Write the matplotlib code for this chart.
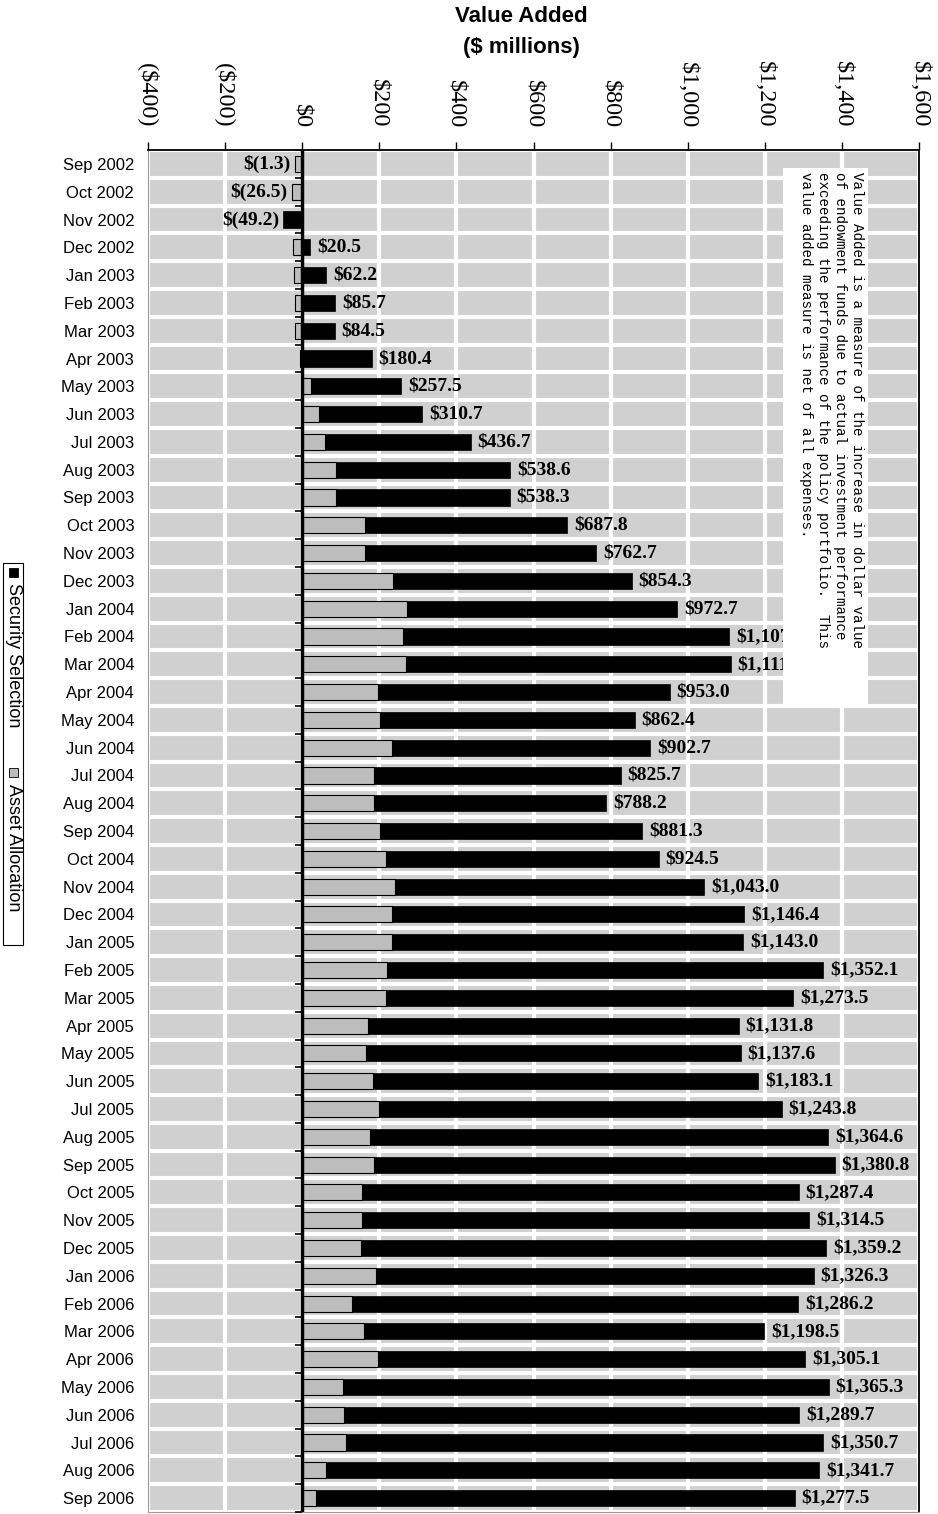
import matplotlib
matplotlib.use("Agg")
import matplotlib.pyplot as plt
from matplotlib.patches import Rectangle
import numpy as np

months = ["Sep 2002", "Oct 2002", "Nov 2002", "Dec 2002", "Jan 2003", "Feb 2003", "Mar 2003",
          "Apr 2003", "May 2003", "Jun 2003", "Jul 2003", "Aug 2003", "Sep 2003", "Oct 2003",
          "Nov 2003", "Dec 2003", "Jan 2004", "Feb 2004", "Mar 2004", "Apr 2004", "May 2004",
          "Jun 2004", "Jul 2004", "Aug 2004", "Sep 2004", "Oct 2004", "Nov 2004", "Dec 2004",
          "Jan 2005", "Feb 2005", "Mar 2005", "Apr 2005", "May 2005", "Jun 2005", "Jul 2005",
          "Aug 2005", "Sep 2005", "Oct 2005", "Nov 2005", "Dec 2005", "Jan 2006", "Feb 2006",
          "Mar 2006", "Apr 2006", "May 2006", "Jun 2006", "Jul 2006", "Aug 2006", "Sep 2006"]

# total value added (the printed labels)
total = [-1.3, -26.5, -49.2, 20.5, 62.2, 85.7, 84.5,
         180.4, 257.5, 310.7, 436.7, 538.6, 538.3, 687.8,
         762.7, 854.3, 972.7, 1107.4, 1111.6, 953.0, 862.4,
         902.7, 825.7, 788.2, 881.3, 924.5, 1043.0, 1146.4,
         1143.0, 1352.1, 1273.5, 1131.8, 1137.6, 1183.1, 1243.8,
         1364.6, 1380.8, 1287.4, 1314.5, 1359.2, 1326.3, 1286.2,
         1198.5, 1305.1, 1365.3, 1289.7, 1350.7, 1341.7, 1277.5]

asset_allocation = [-20, -27, -3, -24, -22, -20, -20,
                    -6, 22, 44, 60, 88, 88, 162,
                    163, 236, 272, 262, 269, 197, 201,
                    232, 187, 187, 201, 218, 241, 233,
                    232, 220, 217, 171, 166, 184, 199,
                    175, 187, 155, 155, 152, 192, 130,
                    161, 197, 106, 109, 113, 61, 35]

security_selection = [0.0, 0.0, -46.2, 20.5, 62.2, 85.7, 84.5,
                      180.4, 235.5, 266.7, 376.7, 450.6, 450.3, 525.8,
                      599.7, 618.3, 700.7, 845.4, 842.6, 756.0, 661.4,
                      670.7, 638.7, 601.2, 680.3, 706.5, 802.0, 913.4,
                      911.0, 1132.1, 1056.5, 960.8, 971.6, 999.1, 1044.8,
                      1189.6, 1193.8, 1132.4, 1159.5, 1207.2, 1134.3, 1156.2,
                      1037.5, 1108.1, 1259.3, 1180.7, 1237.7, 1280.7, 1242.5]

x_ticks = [-400, -200, 0, 200, 400, 600, 800, 1000, 1200, 1400, 1600]
x_labels = ["($400)", "($200)", "$0", "$200", "$400", "$600", "$800",
            "$1,000", "$1,200", "$1,400", "$1,600"]

note = ("Value Added is a measure of the increase in dollar value\n"
        "of endowment funds due to actual investment performance\n"
        "exceeding the performance of the policy portfolio.  This\n"
        "value added measure is net of all expenses.")

SERIF = "Liberation Serif"
SANS = "Liberation Sans"

fig = plt.figure(figsize=(9.38, 15.14), dpi=100)
ax = fig.add_axes([0.1578, 0.0013, 0.8220, 0.8996])
ax.set_facecolor("#d0d0d0")

n = len(months)
y = np.arange(n)
asset = np.array(asset_allocation, dtype=float)
sec = np.array(security_selection, dtype=float)

# excel style stacking: positives go right from 0, negatives go left from 0
sec_left = np.where(np.sign(sec) == np.sign(asset), asset, 0.0)
bh = 0.58
ax.barh(y, asset, height=bh, color="#bdbdbd", edgecolor="black", linewidth=0.8, zorder=3)
ax.barh(y, sec, left=sec_left, height=bh, color="black", edgecolor="black", linewidth=0.5, zorder=3)

right_end = np.maximum(np.maximum(asset, 0), np.maximum(sec_left + sec, 0))
left_end = np.minimum(np.minimum(asset, 0), np.minimum(sec_left + sec, 0))

for i, t in enumerate(total):
    if t >= 0:
        ax.annotate("${:,.1f}".format(t), (right_end[i], i), xytext=(5, 0),
                    textcoords="offset points", ha="left", va="center",
                    fontsize=14, fontweight="bold", fontfamily=SERIF, zorder=4)
    else:
        ax.annotate("$({:,.1f})".format(-t), (left_end[i], i), xytext=(-3, 0),
                    textcoords="offset points", ha="right", va="center",
                    fontsize=14, fontweight="bold", fontfamily=SERIF, zorder=4)

# zero line with little category ticks
ax.axvline(0, color="black", lw=2.5, zorder=5)
ax.plot(np.zeros(n + 1), np.arange(n + 1) - 0.5, ls="none", marker=0, ms=5,
        mew=1.2, color="black", zorder=5)

ax.set_xlim(-400, 1600)
ax.set_ylim(n - 0.5, -0.5)

ax.set_xticks(x_ticks)
ax.set_xticklabels(x_labels, rotation=270, fontsize=17.5, fontfamily=SERIF)
ax.xaxis.tick_top()
ax.tick_params(axis="x", length=6, width=1, direction="out", pad=10)

ax.set_yticks(y)
ax.set_yticklabels(months, fontsize=12, fontfamily=SANS)
ax.set_yticks(np.arange(n + 1) - 0.5, minor=True)
ax.tick_params(axis="y", which="both", length=0, pad=10)

ax.grid(axis="x", which="major", color="white", lw=3)
ax.grid(axis="y", which="minor", color="white", lw=3)
ax.set_axisbelow(True)

for side in ["left", "bottom"]:
    ax.spines[side].set_color("#999999")
ax.spines["top"].set_linewidth(1.3)
ax.spines["right"].set_linewidth(1.3)

# note box, typewriter-like spaced text
ax.add_patch(Rectangle((0.8236, 0.5925), 0.110, 0.3943, transform=ax.transAxes,
                       facecolor="white", edgecolor="none", zorder=6))
ax.text(0.928, 0.9838, note, transform=ax.transAxes, rotation=270, ha="right", va="top",
        multialignment="left", linespacing=1.25, fontsize=10.3,
        fontfamily="Liberation Mono", zorder=7)

# title
fig.text(0.556, 1 - 17 / 1514, "Value Added", ha="center", va="center",
         fontsize=16, fontweight="bold", fontfamily=SANS)
fig.text(0.556, 1 - 47 / 1514, "($ millions)", ha="center", va="center",
         fontsize=16, fontweight="bold", fontfamily=SANS)

# rotated legend on the left
fig.patches.append(Rectangle((3 / 938, 1 - 945 / 1514), 20 / 938, 382 / 1514,
                             transform=fig.transFigure, facecolor="white",
                             edgecolor="black", lw=0.8))
fig.patches.append(Rectangle((8.5 / 938, 1 - 577 / 1514), 9 / 938, 9 / 1514,
                             transform=fig.transFigure, facecolor="black",
                             edgecolor="black", lw=0.6))
fig.text(13 / 938, 1 - 583 / 1514, "Security Selection", rotation=270, ha="center", va="top",
         fontsize=13, fontfamily=SANS)
fig.patches.append(Rectangle((8.5 / 938, 1 - 777 / 1514), 9 / 938, 9 / 1514,
                             transform=fig.transFigure, facecolor="#bdbdbd",
                             edgecolor="black", lw=0.6))
fig.text(13 / 938, 1 - 784 / 1514, "Asset Allocation", rotation=270, ha="center", va="top",
         fontsize=13, fontfamily=SANS)

fig.savefig("out.png", dpi=100)
